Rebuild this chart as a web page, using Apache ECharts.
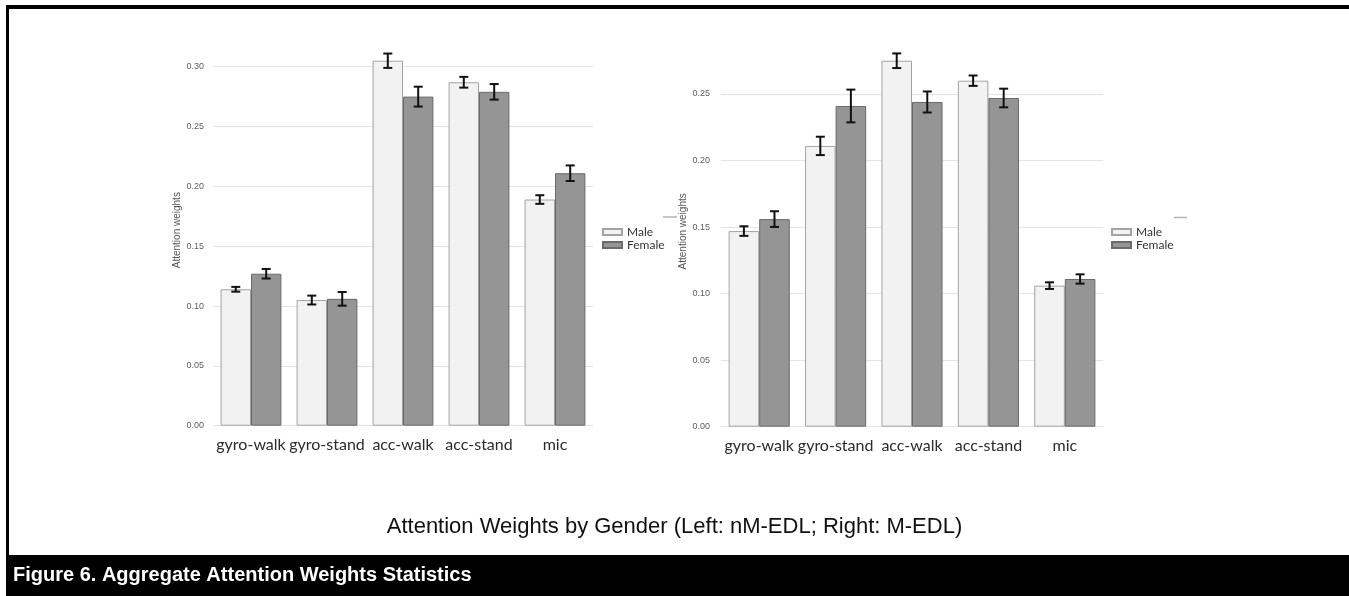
<!DOCTYPE html>
<html>
<head>
<meta charset="utf-8">
<title>Attention Weights by Gender</title>
<script src="https://cdn.jsdelivr.net/npm/echarts@6/dist/echarts.min.js"></script>
<style>
  html, body { margin: 0; padding: 0; background: #ffffff; }
  #chart { width: 1349px; height: 596px; }
</style>
</head>
<body>
<div id="chart"></div>
<script>
// Sensor modalities along the x axis
var categories = ['gyro-walk', 'gyro-stand', 'acc-walk', 'acc-stand', 'mic'];

// nM-EDL (left panel): mean attention weight and error half-width
var leftMale        = [0.114, 0.105, 0.305, 0.287, 0.189];
var leftMaleErr     = [0.002, 0.0037, 0.006, 0.0045, 0.0036];
var leftFemale      = [0.127, 0.106, 0.275, 0.279, 0.211];
var leftFemaleErr   = [0.004, 0.0057, 0.0083, 0.0065, 0.0065];

// M-EDL (right panel)
var rightMale       = [0.147, 0.211, 0.275, 0.260, 0.106];
var rightMaleErr    = [0.0036, 0.0069, 0.0055, 0.0039, 0.0025];
var rightFemale     = [0.156, 0.241, 0.244, 0.247, 0.111];
var rightFemaleErr  = [0.0059, 0.0123, 0.0079, 0.007, 0.0035];

// y-axis ranges and tick step for each panel
var leftAxisMax = 0.30;
var rightAxisMax = 0.25;
var tickStep = 0.05;

var chartTitle = 'Attention Weights by Gender (Left: nM-EDL; Right: M-EDL)';
var figureCaption = 'Figure 6. Aggregate Attention Weights Statistics';

var MALE_FILL = '#f2f2f2', MALE_EDGE = '#a3a3a3';
var FEMALE_FILL = '#959595', FEMALE_EDGE = '#6a6a6a';

function errData(vals, errs) {
  return vals.map(function (v, i) { return [i, v, errs[i]]; });
}

// Error bar with caps, shifted to sit on the male (-1) or female (+1) bar
function errorBar(side) {
  return function (params, api) {
    var i = api.value(0), v = api.value(1), e = api.value(2);
    var band = api.size([1, 0])[0];
    var hi = api.coord([i, v + e]);
    var lo = api.coord([i, v - e]);
    var cx = hi[0] + side * band * 0.2;
    var hw = 4.5;
    var st = { stroke: '#111111', lineWidth: 2 };
    return {
      type: 'group',
      children: [
        { type: 'line', shape: { x1: cx, y1: hi[1], x2: cx, y2: lo[1] }, style: st },
        { type: 'line', shape: { x1: cx - hw, y1: hi[1], x2: cx + hw, y2: hi[1] }, style: st },
        { type: 'line', shape: { x1: cx - hw, y1: lo[1], x2: cx + hw, y2: lo[1] }, style: st }
      ]
    };
  };
}

function xAxis(gridIndex) {
  return {
    type: 'category', gridIndex: gridIndex, data: categories,
    axisLine: { show: false }, axisTick: { show: false },
    axisLabel: { margin: 11, fontFamily: 'Lato', fontSize: 16, color: '#2b2b2b', interval: 0 }
  };
}

function yAxis(gridIndex, max, nameGap, namePad, labelMargin) {
  return {
    type: 'value', gridIndex: gridIndex, min: 0, max: max, interval: tickStep,
    name: 'Attention weights', nameLocation: 'middle', nameGap: nameGap,
    nameTextStyle: { fontFamily: 'Liberation Sans', fontSize: 10, color: '#555', padding: [0, 0, 0, namePad] },
    axisLine: { show: false }, axisTick: { show: false },
    axisLabel: {
      margin: labelMargin, fontFamily: 'Liberation Sans', fontSize: 9, color: '#5e5e5e',
      formatter: function (v) { return v.toFixed(2); }
    },
    splitLine: { lineStyle: { color: '#e4e4e4', width: 1 } }
  };
}

function bars(name, data, axis, fill, edge) {
  return {
    name: name, type: 'bar', xAxisIndex: axis, yAxisIndex: axis, data: data,
    barGap: '0%', barCategoryGap: '20%', clip: false,
    itemStyle: { color: fill, borderColor: edge, borderWidth: 1 }
  };
}

function errs(data, axis, side) {
  return {
    type: 'custom', xAxisIndex: axis, yAxisIndex: axis, data: data,
    renderItem: errorBar(side), clip: false, z: 5, silent: true,
    encode: { x: 0, y: 1 }
  };
}

var chart = echarts.init(document.getElementById('chart'), null, { renderer: 'canvas' });

var legendText = { fontFamily: 'Lato', fontSize: 12, color: '#333' };

chart.setOption({
  backgroundColor: '#ffffff',
  animation: false,
  title: {
    text: chartTitle, left: 'center', top: 511,
    textStyle: { fontFamily: 'Liberation Sans', fontWeight: 'normal', fontSize: 22, color: '#111' }
  },
  legend: [
    { data: ['Male', 'Female'], orient: 'vertical', left: 597, top: 221, itemWidth: 19, itemHeight: 6,
      itemGap: 1, icon: 'rect', textStyle: legendText, selectedMode: false },
    { data: ['Male', 'Female'], orient: 'vertical', left: 1106, top: 221, itemWidth: 19, itemHeight: 6,
      itemGap: 1, icon: 'rect', textStyle: legendText, selectedMode: false }
  ],
  grid: [
    { left: 213, top: 66.7, width: 380, height: 359 },
    { left: 721, top: 94, width: 382, height: 332.7 }
  ],
  xAxis: [xAxis(0), xAxis(1)],
  yAxis: [
    yAxis(0, leftAxisMax, 31, 32, 9),
    yAxis(1, rightAxisMax, 29, 58, 11)
  ],
  series: [
    bars('Male', leftMale, 0, MALE_FILL, MALE_EDGE),
    bars('Female', leftFemale, 0, FEMALE_FILL, FEMALE_EDGE),
    errs(errData(leftMale, leftMaleErr), 0, -1),
    errs(errData(leftFemale, leftFemaleErr), 0, 1),
    bars('Male', rightMale, 1, MALE_FILL, MALE_EDGE),
    bars('Female', rightFemale, 1, FEMALE_FILL, FEMALE_EDGE),
    errs(errData(rightMale, rightMaleErr), 1, -1),
    errs(errData(rightFemale, rightFemaleErr), 1, 1)
  ],
  graphic: [
    // frame: top rule and left rule
    { type: 'rect', shape: { x: 6, y: 5, width: 1343, height: 4 }, style: { fill: '#000' }, z: 10 },
    { type: 'rect', shape: { x: 6, y: 5, width: 3, height: 591 }, style: { fill: '#000' }, z: 10 },
    // short grey rules beside each panel
    { type: 'line', shape: { x1: 663, y1: 217, x2: 677, y2: 217 }, style: { stroke: '#b5b5b5', lineWidth: 1.5 } },
    { type: 'line', shape: { x1: 1174, y1: 217.5, x2: 1187, y2: 217.5 }, style: { stroke: '#b5b5b5', lineWidth: 1.5 } },
    // caption band
    { type: 'rect', shape: { x: 6, y: 555, width: 1343, height: 41 }, style: { fill: '#000' }, z: 10 },
    { type: 'text', left: 13, top: 565, z: 11,
      style: { text: figureCaption, fill: '#ffffff', font: 'bold 20px "Liberation Sans", Arial, sans-serif' } }
  ]
});
</script>
</body>
</html>
